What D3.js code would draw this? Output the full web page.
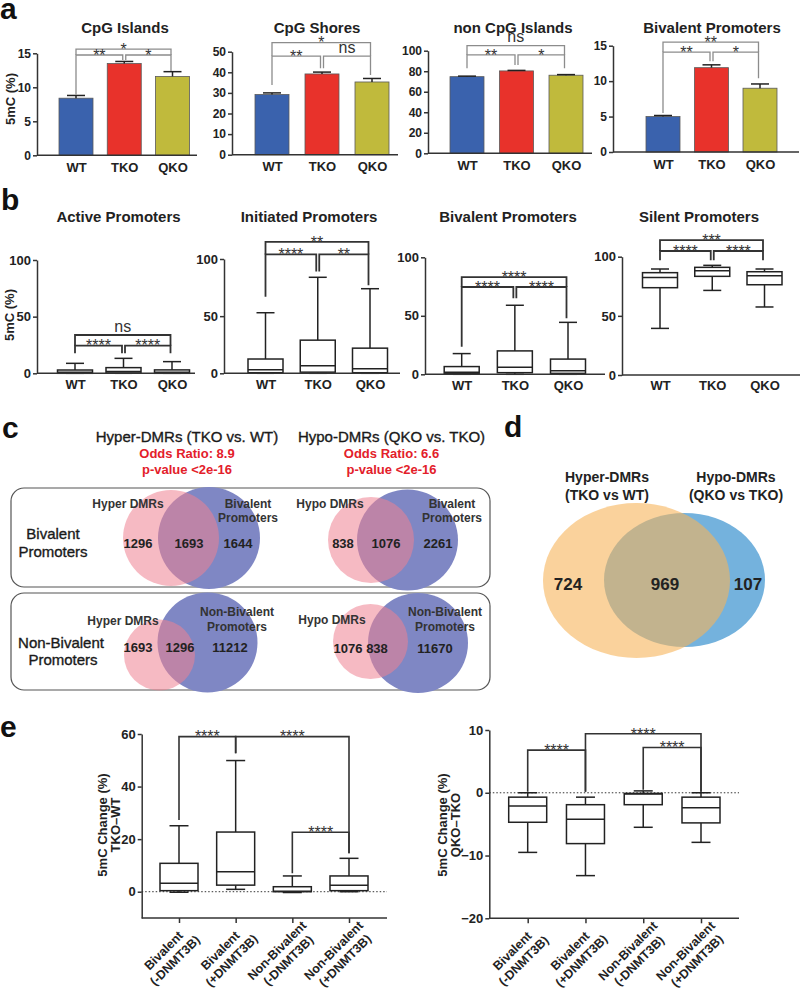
<!DOCTYPE html>
<html><head><meta charset="utf-8">
<script src="https://cdn.jsdelivr.net/npm/d3@7"></script>
<style>body{margin:0;background:#fff} svg{display:block}</style>
</head><body><svg id="c" width="800" height="989"></svg>
<script>
// ---------------- DATA ----------------
const genotypes = ["WT", "TKO", "QKO"];
const barColors = ["#3a62ad", "#e8322b", "#c0ba3c"];

const aTitles = ["CpG Islands", "CpG Shores", "non CpG Islands", "Bivalent Promoters"];
const aTicks = [[0, 5, 10, 15], [0, 10, 20, 30, 40, 50], [0, 20, 40, 60, 80, 100], [0, 5, 10, 15]];
const cpgIslandsMean = [8.4, 13.5, 11.6];
const cpgIslandsSem = [0.4, 0.3, 0.7];
const cpgShoresMean = [29.2, 39.2, 35.3];
const cpgShoresSem = [0.8, 0.9, 1.7];
const nonCpgMean = [74.7, 80.3, 76.1];
const nonCpgSem = [0.5, 0.5, 0.6];
const bivPromMean = [5.0, 11.9, 9.0];
const bivPromSem = [0.15, 0.4, 0.6];
const aMeans = [cpgIslandsMean, cpgShoresMean, nonCpgMean, bivPromMean];
const aSems = [cpgIslandsSem, cpgShoresSem, nonCpgSem, bivPromSem];
// brackets: [from, to, level, left leg end, right leg end, label]
const aBrackets = [
  [[0, 2, 15.6, 14.75, 14.75, "*"], [0, 1, 14.75, 8.9, 14.0, "**"], [1, 2, 14.75, 14.0, 12.4, "*"]],
  [[0, 2, 54.4, 47.9, 47.9, "*"], [0, 1, 47.9, 33.8, 42, "**"], [1, 2, 47.9, 42, 38.7, "ns"]],
  [[0, 2, 105, 95.9, 95.9, "ns"], [0, 1, 95.9, 82.9, 86, "**"], [1, 2, 95.9, 86, 83, "*"]],
  [[0, 2, 15.5, 14.1, 14.1, "**"], [0, 1, 14.1, 5.5, 12.8, "**"], [1, 2, 14.1, 12.8, 10.4, "*"]]
];

const bTitles = ["Active Promoters", "Initiated Promoters", "Bivalent Promoters", "Silent Promoters"];
const bTicks = [0, 50, 100];
// [min, q1, median, q3, max]
const bActive = [[0, 0, 1, 2.9, 8.8], [0, 0.3, 1.5, 5, 13.2], [0, 0, 1, 3, 10.3]];
const bInitiated = [[0, 0.5, 3, 12.5, 53], [0, 1, 6.7, 29, 84], [0, 0.5, 4, 22, 74]];
const bBivalent = [[0, 0.8, 1.7, 6.6, 17.7], [0, 1.4, 6, 20, 59], [0, 0.8, 3.1, 13, 44.4]];
const bSilent = [[39.4, 73.8, 82.5, 86.5, 89.6], [71.5, 83.4, 88.2, 91, 92.7], [57.5, 76.3, 84, 87.3, 89.6]];
const bData = [bActive, bInitiated, bBivalent, bSilent];
const bBrackets = [
  [[0, 2, 33.8, 24.4, 24.4, "ns"], [0, 1, 24.4, 17.6, 17.6, "****"], [1, 2, 24.4, 17.6, 17.6, "****"]],
  [[0, 2, 115, 104, 104, "**"], [0, 1, 104, 67, 89, "****"], [1, 2, 104, 89, 77, "**"]],
  [[0, 2, 83, 74.6, 74.6, "****"], [0, 1, 74.6, 23.6, 65, "****"], [1, 2, 74.6, 65, 48, "****"]],
  [[0, 2, 114, 104.8, 104.8, "***"], [0, 1, 104.8, 97, 97, "****"], [1, 2, 104.8, 97, 97, "****"]]
];

const cTitles = ["Hyper-DMRs (TKO vs. WT)", "Hypo-DMRs (QKO vs. TKO)"];
const cOdds = ["Odds Ratio: 8.9", "Odds Ratio: 6.6"];
const cPval = ["p-value <2e-16", "p-value <2e-16"];
const cRowLabels = [["Bivalent", "Promoters"], ["Non-Bivalent", "Promoters"]];
const cSetA = ["Hyper DMRs", "Hypo DMRs", "Hyper DMRs", "Hypo DMRs"];
const cSetB = [["Bivalent", "Promoters"], ["Bivalent", "Promoters"], ["Non-Bivalent", "Promoters"], ["Non-Bivalent", "Promoters"]];
const cCounts = [[1296, 1693, 1644], [838, 1076, 2261], [1693, 1296, 11212], [1076, 838, 11670]];

const dSetA = ["Hyper-DMRs", "(TKO vs WT)"];
const dSetB = ["Hypo-DMRs", "(QKO vs TKO)"];
const dCounts = [724, 969, 107];

const eLine1 = ["Bivalent", "Bivalent", "Non-Bivalent", "Non-Bivalent"];
const eLine2 = ["(-DNMT3B)", "(+DNMT3B)", "(-DNMT3B)", "(+DNMT3B)"];
const eTKO = [[-0.2, 0.4, 3.2, 10.8, 25.1], [0.9, 2.5, 7.6, 22.7, 49.9], [-0.3, 0, 0.2, 1.9, 6.0], [0, 0.4, 2.5, 6.0, 12.7]];
const eQKO = [[-9.5, -4.7, -2.1, -0.7, 0], [-13.2, -8.1, -4.2, -1.9, -0.7], [-5.5, -1.9, -0.2, -0.1, 0.3], [-7.9, -4.8, -2.4, -0.7, 0]];
const eTKOTicks = [0, 20, 40, 60];
const eQKOTicks = [-20, -10, 0, 10];
const eTKOBrackets = [[0, 1, 59, 27.3, 52.7, "****"], [1, 3, 59, 52.7, 14.6, "****"], [2, 3, 22.6, 7, 14.6, "****"]];
const eQKOBrackets = [[0, 1, 6.8, 0.15, 0.15, "****"], [1, 3, 9.4, 0.15, 0.15, "****"], [2, 3, 7.2, 0.5, 0.15, "****"]];

// ---------------- DRAW ----------------
const FONT = '"Liberation Sans", Arial, Helvetica, sans-serif';
const svg = d3.select("#c");
const INK = "#222";

function txt(g, x, y, s, size, weight, fill, anchor) {
  return g.append("text").attr("x", x).attr("y", y).text(s)
    .attr("font-family", FONT).attr("font-size", size).attr("font-weight", weight || "normal")
    .attr("fill", fill || INK).attr("text-anchor", anchor || "middle");
}
function medium(t, w) { return t.attr("stroke", t.attr("fill")).attr("stroke-width", w || 0.35); }

function yAxis(g, y, x, ticks, fs) {
  const ax = g.append("g").attr("transform", `translate(${x},0)`)
    .call(d3.axisLeft(y).tickValues(ticks).tickSize(4).tickPadding(2).tickSizeOuter(0));
  ax.select(".domain").attr("stroke", "#333").attr("stroke-width", 1.5);
  ax.selectAll(".tick line").attr("stroke", "#333").attr("stroke-width", 1.5);
  ax.selectAll(".tick text").attr("font-family", FONT).attr("font-weight", "bold")
    .attr("font-size", fs).attr("fill", INK);
  return ax;
}

function xAxis(g, x, y0, ax0, ax1, pad, tick, fs) {
  g.append("line").attr("x1", ax0).attr("x2", ax1).attr("y1", y0).attr("y2", y0)
    .attr("stroke", "#333").attr("stroke-width", 1.5);
  const a = g.append("g").attr("transform", `translate(0,${y0})`)
    .call(d3.axisBottom(x).tickSize(tick).tickPadding(pad).tickSizeOuter(0));
  a.select(".domain").remove();
  a.selectAll(".tick line").attr("stroke", "#333").attr("stroke-width", 1.5);
  a.selectAll(".tick text").attr("font-family", FONT).attr("font-weight", "bold")
    .attr("font-size", fs).attr("fill", INK);
  return a;
}

function brackets(g, x, y, list, color, width, fs, offs) {
  list.forEach(b => {
    const [i, j, lev, lL, lR, lab] = b;
    const cats = x.domain();
    const x1 = x(cats[i]) + (i === 1 || i === 2 ? offs : 0);
    const x2 = x(cats[j]) - (j === 1 || j === 2 ? offs : 0);
    g.append("path").attr("d", `M${x1},${y(lL)}V${y(lev)}H${x2}V${y(lR)}`)
      .attr("fill", "none").attr("stroke", color).attr("stroke-width", width);
    const isStar = lab.indexOf("*") >= 0;
    txt(g, (x1 + x2) / 2, y(lev) + (isStar ? fs * 0.36 : -3.5), lab, fs, "normal", "#333");
  });
}

function boxes(g, x, y, data, bw, cw) {
  const cats = x.domain();
  data.forEach((d, i) => {
    const cx = x(cats[i]);
    const [mn, q1, md, q3, mx] = d;
    const L = (x1, y1, x2, y2) => g.append("line").attr("x1", x1).attr("y1", y1).attr("x2", x2).attr("y2", y2)
      .attr("stroke", "#222").attr("stroke-width", 1.5);
    L(cx, y(mx), cx, y(q3));
    L(cx, y(q1), cx, y(mn));
    L(cx - cw / 2, y(mx), cx + cw / 2, y(mx));
    L(cx - cw / 2, y(mn), cx + cw / 2, y(mn));
    g.append("rect").attr("x", cx - bw / 2).attr("y", y(q3)).attr("width", bw)
      .attr("height", Math.max(0.5, y(q1) - y(q3))).attr("fill", "#fff")
      .attr("stroke", "#222").attr("stroke-width", 1.5);
    L(cx - bw / 2, y(md), cx + bw / 2, y(md));
  });
}

// panel letters
[["a", 0, 19], ["b", 1, 210], ["c", 2, 438], ["d", 504, 437], ["e", 0, 737]].forEach(([l, x, y]) =>
  txt(svg, x, y, l, 30, "bold", "#111", "start"));

// ---------- Panel a ----------
const aLayout = [
  { ax: 37, xEnd: 197, c0: 76, c2: 172.5, y0: 155.3, y1: 53.3, tx: 125 },
  { ax: 232, xEnd: 398, c0: 272, c2: 372, y0: 154.7, y1: 51.7, tx: 317 },
  { ax: 428, xEnd: 592, c0: 467, c2: 566, y0: 153.3, y1: 50.7, tx: 513 },
  { ax: 613, xEnd: 799, c0: 663, c2: 760, y0: 152, y1: 45.7, tx: 712 }
];
aLayout.forEach((L, k) => {
  const g = svg.append("g");
  const ticks = aTicks[k];
  const y = d3.scaleLinear().domain([0, ticks[ticks.length - 1]]).range([L.y0, L.y1]);
  const x = d3.scalePoint().domain(genotypes).range([L.c0, L.c2]);
  const bw = 34;
  aMeans[k].forEach((m, i) => {
    const cx = x(genotypes[i]);
    g.append("rect").attr("x", cx - bw / 2).attr("y", y(m)).attr("width", bw).attr("height", y(0) - y(m))
      .attr("fill", barColors[i]).attr("stroke", "#5a5a5a").attr("stroke-width", 0.8);
    const top = y(m + aSems[k][i]);
    g.append("line").attr("x1", cx).attr("x2", cx).attr("y1", y(m)).attr("y2", top).attr("stroke", "#222").attr("stroke-width", 1.5);
    g.append("line").attr("x1", cx - 9).attr("x2", cx + 9).attr("y1", top).attr("y2", top).attr("stroke", "#222").attr("stroke-width", 1.5);
  });
  yAxis(g, y, L.ax, ticks, 12);
  xAxis(g, x, L.y0, L.ax, L.xEnd, 7.5, 0, 13);
  brackets(g, x, y, aBrackets[k], "#8c8c8c", 1.3, 16, 1.5);
  txt(g, L.tx, 32.5, aTitles[k], 15, "bold");
});
txt(svg, 0, 0, "5mC (%)", 13, "bold", INK).attr("transform", "translate(14.5,99) rotate(-90)");

// ---------- Panel b ----------
const bLayout = [
  { ax: 37, xEnd: 195, c0: 75, c2: 172, y0: 373.3, y1: 260, tx: 118.5 },
  { ax: 224, xEnd: 400, c0: 265.5, c2: 370, y0: 373.3, y1: 259, tx: 309 },
  { ax: 425, xEnd: 605, c0: 461.7, c2: 568, y0: 374.3, y1: 257.3, tx: 508 },
  { ax: 622, xEnd: 800, c0: 660, c2: 764.5, y0: 375, y1: 256.7, tx: 699 }
];
bLayout.forEach((L, k) => {
  const g = svg.append("g");
  const y = d3.scaleLinear().domain([0, 100]).range([L.y0, L.y1]);
  const x = d3.scalePoint().domain(genotypes).range([L.c0, L.c2]);
  boxes(g, x, y, bData[k], 35, 18);
  yAxis(g, y, L.ax, bTicks, 13);
  xAxis(g, x, L.y0, L.ax, L.xEnd, 6, 0, 13);
  brackets(g, x, y, bBrackets[k], "#333", 1.8, 16, 1.5);
  txt(g, L.tx, 222, bTitles[k], 15, "bold");
});
txt(svg, 0, 0, "5mC (%)", 13, "bold", INK).attr("transform", "translate(13.5,315) rotate(-90)");

// ---------- Panel c ----------
const gc = svg.append("g");
[187, 391.5].forEach((cx, i) => {
  medium(txt(gc, cx, 442, cTitles[i], 15, "normal", "#1a1a1a"));
  txt(gc, cx, 458, cOdds[i], 13, "bold", "#e3202a");
  txt(gc, cx, 474, cPval[i], 13, "bold", "#e3202a");
});
[[488, 587], [593, 690]].forEach(([t, b]) =>
  gc.append("rect").attr("x", 11).attr("y", t).attr("width", 479).attr("height", b - t).attr("rx", 13)
    .attr("fill", "none").attr("stroke", "#555").attr("stroke-width", 1.2));
const vennLayout = [
  { pa: [171, 538, 48], pb: [209, 538, 51], la: [128, 507.5], lb: [248, 507.5], nx: [138, 189, 238], ny: 548 },
  { pa: [371, 540, 43], pb: [407.5, 540, 50.5], la: [330, 507.5], lb: [452, 507.5], nx: [343, 386, 438], ny: 548 },
  { pa: [159.5, 655, 35.5], pb: [207.5, 642.5, 50], la: [123, 625], lb: [237, 616.3], nx: [138, 180, 230], ny: 652.4 },
  { pa: [370.5, 641.5, 37.5], pb: [418, 643, 50], la: [332, 624.3], lb: [445, 616.3], nx: [348, 377, 435], ny: 652.7 }
];
vennLayout.forEach((V, k) => {
  gc.append("circle").attr("cx", V.pb[0]).attr("cy", V.pb[1]).attr("r", V.pb[2]).attr("fill", "#7f87c4");
  gc.append("circle").attr("cx", V.pa[0]).attr("cy", V.pa[1]).attr("r", V.pa[2]).attr("fill", "#ee8291").attr("fill-opacity", 0.55);
  txt(gc, V.la[0], V.la[1], cSetA[k], 12, "bold", "#333");
  txt(gc, V.lb[0], V.lb[1], cSetB[k][0], 12, "bold", "#333");
  txt(gc, V.lb[0], V.lb[1] + 14.7, cSetB[k][1], 12, "bold", "#333");
  cCounts[k].forEach((n, i) => txt(gc, V.nx[i], V.ny, d3.format("d")(n), 13, "bold", "#222"));
});
medium(txt(gc, 53, 538.5, cRowLabels[0][0], 15, "normal", "#1a1a1a"));
medium(txt(gc, 53, 556.5, cRowLabels[0][1], 15, "normal", "#1a1a1a"));
medium(txt(gc, 61, 648.4, cRowLabels[1][0], 15, "normal", "#1a1a1a"));
medium(txt(gc, 63, 665.4, cRowLabels[1][1], 15, "normal", "#1a1a1a"));

// ---------- Panel d ----------
const gd = svg.append("g");
gd.append("ellipse").attr("cx", 684.5).attr("cy", 580).attr("rx", 80.5).attr("ry", 67).attr("fill", "#74b2dd");
gd.append("ellipse").attr("cx", 636.5).attr("cy", 580.5).attr("rx", 93.5).attr("ry", 77.5).attr("fill", "#f6b45a").attr("fill-opacity", 0.6);
dSetA.forEach((s, i) => txt(gd, 607, 482 + i * 17.5, s, 14, "bold", "#222"));
dSetB.forEach((s, i) => txt(gd, 736, 482 + i * 17.5, s, 14, "bold", "#222"));
[568, 665, 748].forEach((x, i) => txt(gd, x, 589.5, d3.format("d")(dCounts[i]), 17, "bold", "#222"));

// ---------- Panel e ----------
const eLayout = [
  { ax: 141.7, xEnd: 387, c0: 179, c3: 349, dom: [-10, 60], yb: 918, yt: 734, data: eTKO, ticks: eTKOTicks, br: eTKOBrackets, lab: ["5mC Change (%)", "TKO\u2013WT"], lx: [107, 120] },
  { ax: 489.3, xEnd: 739, c0: 527.7, c3: 701, dom: [-20, 10], yb: 918.3, yt: 730, data: eQKO, ticks: eQKOTicks, br: eQKOBrackets, lab: ["5mC Change (%)", "QKO\u2013TKO"], lx: [447, 460] }
];
const eCats = eLine1.map((d, i) => d + " " + eLine2[i]);
eLayout.forEach(L => {
  const g = svg.append("g");
  const y = d3.scaleLinear().domain(L.dom).range([L.yb, L.yt]);
  const x = d3.scalePoint().domain(eCats).range([L.c0, L.c3]);
  g.append("line").attr("x1", L.ax).attr("x2", L.xEnd).attr("y1", y(0)).attr("y2", y(0))
    .attr("stroke", "#333").attr("stroke-width", 1).attr("stroke-dasharray", "1.5,2");
  boxes(g, x, y, L.data, 38, 19);
  yAxis(g, y, L.ax, L.ticks, 13);
  const xa = xAxis(g, x, L.yb, L.ax, L.xEnd, 0, 5, 12.5);
  xa.selectAll(".tick text").remove();
  eCats.forEach((c, i) => {
    const cx = x(c);
    const tg = g.append("g").attr("transform", `translate(${cx - 15.5},${L.yb + 32.5}) rotate(-45)`);
    txt(tg, 0, 0, eLine1[i], 12.5, "bold", INK).attr("dy", "0.35em");
    txt(tg, 1, 15, eLine2[i], 12.5, "bold", INK).attr("dy", "0.35em");
  });
  brackets(g, x, y, L.br, "#333", 1.6, 16, 0);
  txt(g, 0, 0, L.lab[0], 13, "bold", INK).attr("transform", `translate(${L.lx[0]},825) rotate(-90)`);
  txt(g, 0, 0, L.lab[1], 13, "bold", INK).attr("transform", `translate(${L.lx[1]},825) rotate(-90)`);
});
</script></body></html>
